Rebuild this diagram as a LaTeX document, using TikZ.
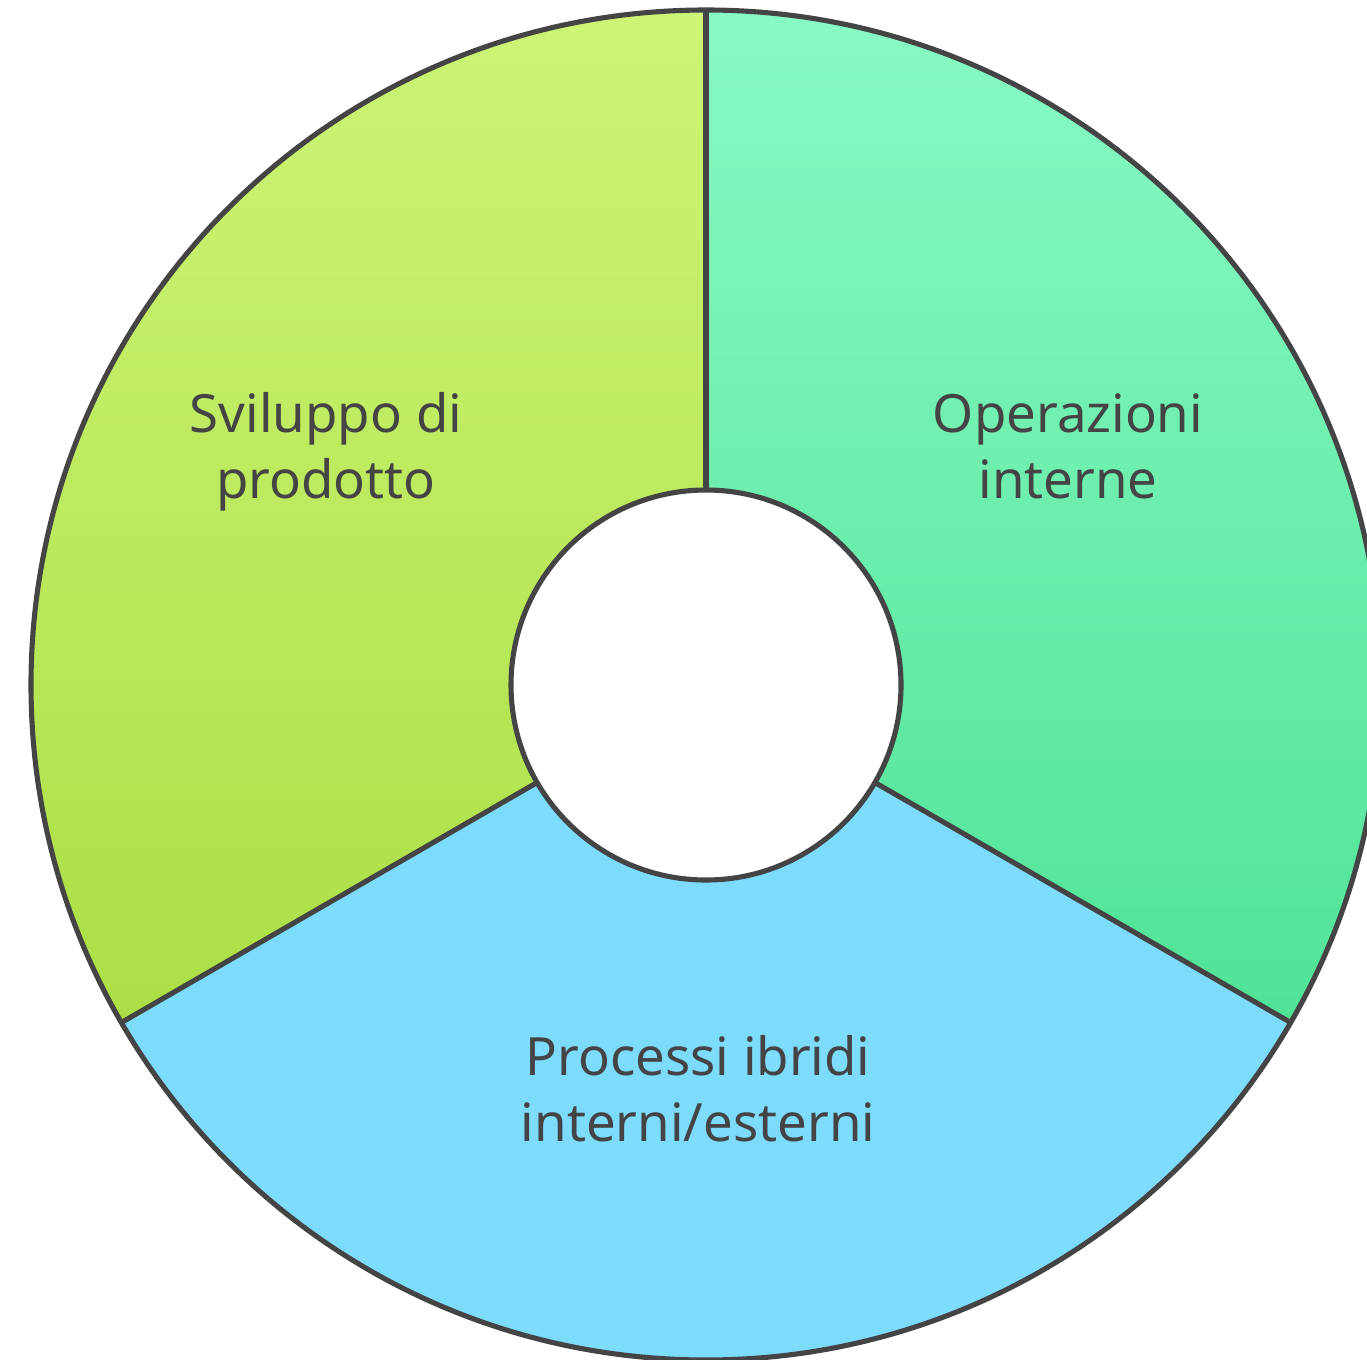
\documentclass[tikz,border=0pt]{standalone}
\usepackage{fontspec}
\setmainfont{Noto Sans}
\usetikzlibrary{calc}

\definecolor{edge}{HTML}{444444}
\definecolor{labeltext}{HTML}{444444}
\definecolor{devtop}{HTML}{CDF476}
\definecolor{devbot}{HTML}{ACDF45}
\definecolor{opstop}{HTML}{88F9C4}
\definecolor{opsbot}{HTML}{50E398}
\definecolor{hybrid}{HTML}{7DDBFC}

\tikzset{
  seglabel/.style={align=center, anchor=base, text=labeltext, inner sep=0pt,
    font=\fontsize{15pt}{18.5pt}\selectfont},
  segedge/.style={draw=edge, line width=1.45pt, line join=round},
}

% annular sector between two angles
\newcommand{\ringsector}[2]{%
  ($(ctr)+(#1:\Rout)$) arc[start angle=#1, end angle=#2, radius=\Rout]
  -- ($(ctr)+(#2:\Rin)$) arc[start angle=#2, end angle=#1, radius=\Rin] -- cycle}

\begin{document}
\begin{tikzpicture}[x=0.01cm, y=0.01cm]
  \useasboundingbox (0,0) rectangle (1367,1359);
  \coordinate (ctr) at (706,674);
  \def\Rout{675}
  \def\Rin{195}

  % product development (upper left)
  \shade[top color=devtop, bottom color=devbot] \ringsector{90}{210};
  % internal operations (upper right)
  \shade[top color=opstop, bottom color=opsbot] \ringsector{-30}{90};
  % hybrid processes (bottom)
  \fill[hybrid] \ringsector{210}{330};

  % outlines
  \draw[segedge] (ctr) circle[radius=\Rout];
  \draw[segedge] (ctr) circle[radius=\Rin];
  \draw[segedge] ($(ctr)+(90:\Rin)$) -- ($(ctr)+(90:\Rout)$);
  \draw[segedge] ($(ctr)+(210:\Rin)$) -- ($(ctr)+(210:\Rout)$);
  \draw[segedge] ($(ctr)+(-30:\Rin)$) -- ($(ctr)+(-30:\Rout)$);

  % labels (anchored on the baseline of their last line)
  \node[seglabel] (dev) at (326,861) {Sviluppo di\\prodotto};
  \node[seglabel] (ops) at (1068,861) {Operazioni\\interne};
  \node[seglabel] (hyb) at (698,218) {Processi ibridi\\interni/esterni};
\end{tikzpicture}
\end{document}
